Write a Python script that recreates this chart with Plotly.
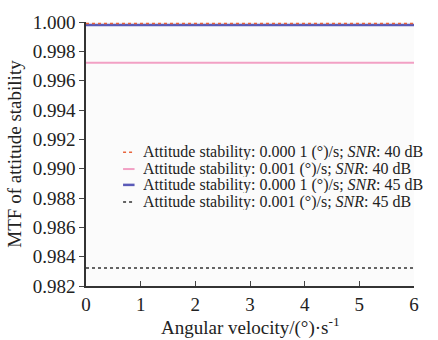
import plotly.graph_objects as go

x_vals = [0, 0.5, 1, 1.5, 2, 2.5, 3, 3.5, 4, 4.5, 5, 5.5, 6]
s1 = [0.99990] * 13  # 0.0001 deg/s, SNR 40 dB
s2 = [0.99722] * 13  # 0.001 deg/s, SNR 40 dB
s3 = [0.99980] * 13  # 0.0001 deg/s, SNR 45 dB
s4 = [0.98322] * 13  # 0.001 deg/s, SNR 45 dB

names = [
    "Attitude stability: 0.000 1 (°)/s; <i>SNR</i>: 40 dB",
    "Attitude stability: 0.001 (°)/s; <i>SNR</i>: 40 dB",
    "Attitude stability: 0.000 1 (°)/s; <i>SNR</i>: 45 dB",
    "Attitude stability: 0.001 (°)/s; <i>SNR</i>: 45 dB",
]
colors = ["#e8643c", "#f2a0c4", "#5a5ab8", "#333333"]
widths = [1.5, 2.0, 2.5, 1.5]
dashes = ["dot", "solid", "solid", "dot"]
series = [s1, s2, s3, s4]
y_ticks = [0.982, 0.984, 0.986, 0.988, 0.990, 0.992, 0.994, 0.996, 0.998, 1.000]
x_ticks = [0, 1, 2, 3, 4, 5, 6]
x_title = "Angular velocity/(°)·s<sup>-1</sup>"
y_title = "MTF of attitude stability"

fig = go.Figure()
for i in [1, 2, 0, 3]:
    fig.add_trace(go.Scatter(x=x_vals, y=series[i], name=names[i], mode="lines",
                             line=dict(color=colors[i], width=widths[i], dash=dashes[i]),
                             showlegend=False))

font = "Liberation Serif"
# legend drawn as annotations + short sample lines (paper coords of the plot area)
row_y = [0.507, 0.443, 0.383, 0.318]
for i in range(4):
    fig.add_shape(type="line", xref="paper", yref="paper",
                  x0=0.113, x1=0.148, y0=row_y[i], y1=row_y[i],
                  line=dict(color=colors[i], width=widths[i], dash=dashes[i]))
    fig.add_annotation(xref="paper", yref="paper", x=0.170, y=row_y[i],
                       xanchor="left", yanchor="middle", showarrow=False,
                       height=16, borderpad=0,
                       text=names[i], font=dict(family=font, size=16, color="#222"))

# x-axis title placed low, as in the reference
fig.add_annotation(xref="paper", yref="paper", x=0.5, y=-0.153,
                   xanchor="center", yanchor="middle", showarrow=False,
                   text=x_title, font=dict(family=font, size=19, color="#222"))

fig.update_layout(
    width=438, height=340,
    margin=dict(l=86, r=24, t=22, b=54, autoexpand=False),
    paper_bgcolor="white",
    plot_bgcolor="#fbfbfb",
    showlegend=False,
    font=dict(family=font, size=18, color="#222"),
    xaxis=dict(range=[0, 6], tickvals=x_ticks, ticks="inside", ticklen=5,
               showline=True, linecolor="#333", linewidth=1.5, showgrid=False,
               zeroline=False, tickfont=dict(size=19, family=font)),
    yaxis=dict(range=[0.982, 1.0], tickvals=y_ticks, tickformat=".3f", ticks="outside",
               ticklen=5, showline=True, linecolor="#333", linewidth=1.5, showgrid=False,
               zeroline=False, tickfont=dict(size=19, family=font),
               title=dict(text=y_title, font=dict(size=19, family=font), standoff=6)),
)
fig.write_html("out.html")
